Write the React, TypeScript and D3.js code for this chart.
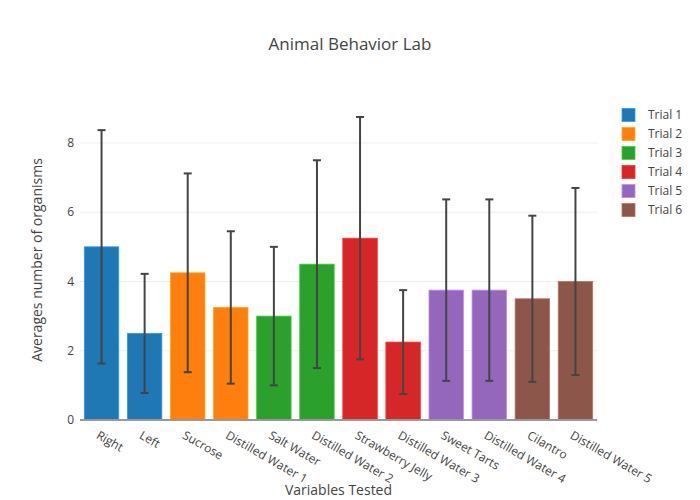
import React from 'react';
import * as d3 from 'd3';

const categories = ['Right', 'Left', 'Sucrose', 'Distilled Water 1', 'Salt Water', 'Distilled Water 2',
  'Strawberry Jelly', 'Distilled Water 3', 'Sweet Tarts', 'Distilled Water 4', 'Cilantro', 'Distilled Water 5'];
const trials = ['Trial 1', 'Trial 2', 'Trial 3', 'Trial 4', 'Trial 5', 'Trial 6'];
// each category belongs to trial index
const trialOf = [0, 0, 1, 1, 2, 2, 3, 3, 4, 4, 5, 5];
const averages = [5, 2.5, 4.25, 3.25, 3, 4.5, 5.25, 2.25, 3.75, 3.75, 3.5, 4];
const errors = [3.37, 1.72, 2.87, 2.2, 2.0, 3.0, 3.5, 1.5, 2.62, 2.62, 2.4, 2.7];
const colors = ['#1f77b4', '#ff7f0e', '#2ca02c', '#d62728', '#9467bd', '#8c564b'];
const yTicks = [0, 2, 4, 6, 8];

const W = 700;
const H = 500;
const margin = { top: 100, right: 103, bottom: 80, left: 80 };
const font = '"Open Sans", "DejaVu Sans", sans-serif';

export default function App() {
  const x = d3.scaleBand<string>()
    .domain(categories)
    .range([margin.left, W - margin.right])
    .paddingInner(0.2)
    .paddingOuter(0.1);
  const y = d3.scaleLinear().domain([0, 9.24]).range([H - margin.bottom, margin.top]);

  return (
    <svg width={W} height={H} style={{ position: 'absolute', left: 0, top: 0, fontFamily: font }}>
      <rect width={W} height={H} fill="#fff" />
      <text x={350} y={50} textAnchor="middle" fontSize={17} fill="#444">Animal Behavior Lab</text>

      {yTicks.map((t) => (
        <g key={t}>
          {t > 0 && (
            <line x1={margin.left} x2={W - margin.right} y1={y(t)} y2={y(t)} stroke="#eee" strokeWidth={1} />
          )}
          <text x={margin.left - 6} y={y(t)} dy="0.35em" textAnchor="end" fontSize={12} fill="#444">{t}</text>
        </g>
      ))}

      {categories.map((c, i) => {
        const bx = x(c) ?? 0;
        const bw = x.bandwidth();
        const col = colors[trialOf[i]];
        const cx = bx + bw / 2;
        const top = y(averages[i] + errors[i]);
        const bot = y(Math.max(0, averages[i] - errors[i]));
        return (
          <g key={c}>
            <rect x={bx} y={y(averages[i])} width={bw} height={y(0) - y(averages[i])} fill={col}
              stroke={d3.color(col)?.brighter(0.8).formatHex()} strokeWidth={0.8} />
            <line x1={cx} x2={cx} y1={top} y2={bot} stroke="#444" strokeWidth={2} />
            <line x1={cx - 4} x2={cx + 4} y1={top} y2={top} stroke="#444" strokeWidth={2} />
            <line x1={cx - 4} x2={cx + 4} y1={bot} y2={bot} stroke="#444" strokeWidth={2} />
          </g>
        );
      })}

      <line x1={margin.left} x2={W - margin.right} y1={y(0)} y2={y(0)} stroke="#999" strokeWidth={2} />

      {categories.map((c) => {
        const cx = (x(c) ?? 0) + x.bandwidth() / 2;
        return (
          <text key={c} transform={`translate(${cx - 4},${H - margin.bottom + 14}) rotate(30)`}
            fontSize={12} fill="#444" dy="0.35em">{c}</text>
        );
      })}

      <text x={(margin.left + W - margin.right) / 2} y={495} textAnchor="middle" fontSize={14} fill="#444">Variables Tested</text>
      <text transform={`translate(42,${(margin.top + H - margin.bottom) / 2}) rotate(-90)`} textAnchor="middle"
        fontSize={14} fill="#444">Averages number of organisms</text>

      {trials.map((t, i) => (
        <g key={t} transform={`translate(622,${115 + i * 19})`}>
          <rect x={0} y={-6.5} width={13} height={13} fill={colors[i]}
            stroke={d3.color(colors[i])?.brighter(0.8).formatHex()} strokeWidth={0.8} />
          <text x={26} y={0} dy="0.35em" fontSize={12} fill="#444">{t}</text>
        </g>
      ))}
    </svg>
  );
}
